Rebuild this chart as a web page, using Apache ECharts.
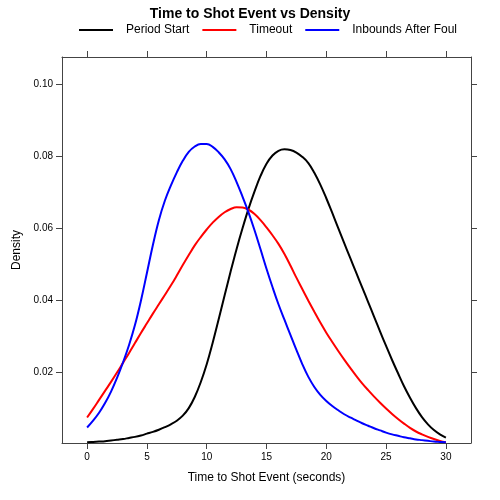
<!DOCTYPE html>
<html>
<head>
<meta charset="utf-8">
<script src="https://cdn.jsdelivr.net/npm/echarts@6/dist/echarts.min.js"></script>
<style>html,body{margin:0;padding:0;background:#fff;}#c{width:500px;height:500px;}</style>
</head>
<body>
<div id="c"></div>
<script>
const timeValues = [0,0.5,1,1.5,2,2.5,3,3.5,4,4.5,5,5.5,6,6.5,7,7.5,8,8.5,9,9.5,10,10.5,11,11.5,12,12.5,13,13.5,14,14.5,15,15.5,16,16.5,17,17.5,18,18.5,19,19.5,20,20.5,21,21.5,22,22.5,23,23.5,24,24.5,25,25.5,26,26.5,27,27.5,28,28.5,29,29.5,30];
const periodStart = [0.0004,0.0005,0.0006,0.0007,0.0009,0.0011,0.0013,0.0016,0.0019,0.0023,0.0028,0.0033,0.0039,0.0046,0.0054,0.0064,0.0078,0.0099,0.0130,0.0171,0.0221,0.0281,0.0346,0.0413,0.0479,0.0542,0.0600,0.0654,0.0702,0.0745,0.0779,0.0802,0.0815,0.0819,0.0817,0.0810,0.0798,0.0781,0.0754,0.0721,0.0683,0.0642,0.0600,0.0558,0.0517,0.0476,0.0435,0.0394,0.0353,0.0312,0.0272,0.0233,0.0196,0.0160,0.0128,0.0099,0.0074,0.0054,0.0038,0.0026,0.0017];
const timeout = [0.0073,0.0097,0.0122,0.0147,0.0172,0.0198,0.0225,0.0252,0.0280,0.0308,0.0335,0.0362,0.0388,0.0414,0.0440,0.0468,0.0497,0.0525,0.0552,0.0575,0.0596,0.0615,0.0631,0.0644,0.0653,0.0658,0.0657,0.0651,0.0639,0.0622,0.0602,0.0580,0.0556,0.0528,0.0496,0.0462,0.0430,0.0398,0.0367,0.0337,0.0309,0.0283,0.0258,0.0234,0.0211,0.0189,0.0168,0.0149,0.0131,0.0114,0.0098,0.0083,0.0069,0.0056,0.0044,0.0034,0.0026,0.0019,0.0013,0.0008,0.0004];
const inboundsAfterFoul = [0.0045,0.0064,0.0086,0.0113,0.0145,0.0183,0.0226,0.0274,0.0330,0.0398,0.0475,0.0553,0.0622,0.0676,0.0718,0.0755,0.0787,0.0812,0.0827,0.0834,0.0834,0.0826,0.0811,0.0791,0.0764,0.0728,0.0687,0.0643,0.0594,0.0541,0.0487,0.0436,0.0388,0.0345,0.0303,0.0261,0.0221,0.0186,0.0158,0.0136,0.0119,0.0105,0.0093,0.0082,0.0073,0.0065,0.0057,0.0050,0.0043,0.0037,0.0031,0.0026,0.0022,0.0018,0.0015,0.0012,0.0010,0.0008,0.0006,0.0005,0.0004];
const xTicks = [0,5,10,15,20,25,30];
const yTicks = [0.02,0.04,0.06,0.08,0.10];
const seriesNames = ['Period Start','Timeout','Inbounds After Foul'];
const seriesColors = ['#000000','#ff0000','#0000ff'];

const font = 'Liberation Sans, Arial, Helvetica, sans-serif';
const axisCol = '#444';
const xRange = [-2.1, 32.1];
const yRange = [0.0002, 0.1076];

function pairs(vals){ return timeValues.map((t,i)=>[t, vals[i]]); }
const allVals = [periodStart, timeout, inboundsAfterFoul];

function xAxisDef(pos, showLabels){
  return {
    type:'value', position:pos, min:xRange[0], max:xRange[1],
    splitLine:{show:false},
    axisLine:{show:true, onZero:false, lineStyle:{color:axisCol, width:1}},
    axisTick:{show:true, inside:false, length:6, customValues:xTicks, lineStyle:{color:axisCol}},
    axisLabel:{show:showLabels, customValues:xTicks, margin:9, color:'#000', fontSize:10, fontFamily:font},
    name: showLabels ? 'Time to Shot Event (seconds)' : '',
    nameLocation:'middle', nameGap:29,
    nameTextStyle:{color:'#000', fontSize:12, fontFamily:font}
  };
}
function yAxisDef(pos, showLabels){
  return {
    type:'value', position:pos, min:yRange[0], max:yRange[1],
    splitLine:{show:false},
    axisLine:{show:true, onZero:false, lineStyle:{color:axisCol, width:1}},
    axisTick:{show:true, inside:false, length:6, customValues:yTicks, lineStyle:{color:axisCol}},
    axisLabel:{show:showLabels, customValues:yTicks, margin:9, color:'#000', fontSize:10, fontFamily:font,
      formatter:v=>Number(v).toFixed(2)},
    name: showLabels ? 'Density' : '',
    nameLocation:'middle', nameGap:39, nameRotate:90,
    nameTextStyle:{color:'#000', fontSize:12, fontFamily:font}
  };
}

const chart = echarts.init(document.getElementById('c'), null, {renderer:'canvas'});
chart.setOption({
  animation:false,
  backgroundColor:'#fff',
  title:{text:'Time to Shot Event vs Density', left:'center', top:2,
    textStyle:{fontSize:14, fontWeight:'bold', color:'#000', fontFamily:font}},
  legend:{
    data:seriesNames, left:79, top:24, padding:0, icon:'rect',
    itemWidth:34, itemHeight:2, itemGap:13,
    textStyle:{fontSize:12, color:'#000', fontFamily:font, padding:[0,0,0,8]}
  },
  grid:{left:62, right:29, top:57, bottom:57, show:false},
  xAxis:[xAxisDef('bottom', true), xAxisDef('top', false)],
  yAxis:[yAxisDef('left', true), yAxisDef('right', false)],
  series: seriesNames.map((n,i)=>({
    name:n, type:'line', data:pairs(allVals[i]), smooth:0.4, symbol:'none',
    xAxisIndex:0, yAxisIndex:0,
    itemStyle:{color:seriesColors[i], borderColor:seriesColors[i]},
    lineStyle:{color:seriesColors[i], width:2}
  }))
});
</script>
</body>
</html>
